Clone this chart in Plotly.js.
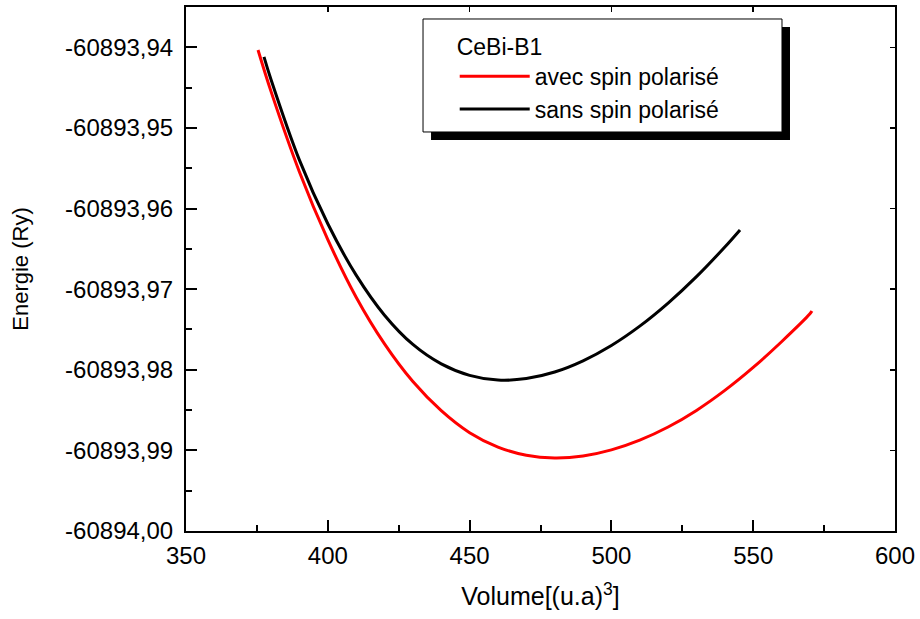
<!DOCTYPE html>
<html>
<head>
<meta charset="utf-8">
<script src="https://cdn.plot.ly/plotly-3.0.1.min.js"></script>
<style>html,body{margin:0;padding:0;background:#fff;}#chart{width:920px;height:619px;}</style>
</head>
<body>
<div id="chart"></div>
<script>
// Series: avec spin polarisé (red)
var volAvec = [375.4, 380, 390, 400, 410, 420, 430, 440, 450, 460, 470, 480, 490, 500, 510, 520, 530, 540, 550, 560, 570, 570.7];
var eAvec = [-60893.94034, -60893.94550, -60893.95546, -60893.96386, -60893.97100, -60893.97679, -60893.98146, -60893.98507, -60893.98780, -60893.98959, -60893.99061, -60893.99094, -60893.99070, -60893.98994, -60893.98873, -60893.98710, -60893.98504, -60893.98256, -60893.97971, -60893.97652, -60893.97306, -60893.97270];
// Series: sans spin polarisé (black)
var volSans = [377.5, 380, 390, 400, 410, 420, 430, 440, 450, 460, 470, 480, 490, 500, 510, 520, 530, 540, 545.35];
var eSans = [-60893.94119, -60893.94402, -60893.95400, -60893.96189, -60893.96826, -60893.97323, -60893.97686, -60893.97927, -60893.98069, -60893.98128, -60893.98109, -60893.98028, -60893.97889, -60893.97699, -60893.97459, -60893.97173, -60893.96845, -60893.96477, -60893.96265];

var seriesNames = ['avec spin polarisé', 'sans spin polarisé'];
var legendTitle = 'CeBi-B1';
var yTickVals = [-60894.00, -60893.99, -60893.98, -60893.97, -60893.96, -60893.95, -60893.94];
var yTickText = ['-60894,00', '-60893,99', '-60893,98', '-60893,97', '-60893,96', '-60893,95', '-60893,94'];
var xTickVals = [350, 400, 450, 500, 550, 600];
var xTickText = ['350', '400', '450', '500', '550', '600'];

var FONT = 'Arial, "Liberation Sans", sans-serif';

var traces = [
  {x: volAvec, y: eAvec, name: seriesNames[0], mode: 'lines', line: {color: '#ff0000', width: 3, shape: 'spline'}},
  {x: volSans, y: eSans, name: seriesNames[1], mode: 'lines', line: {color: '#000000', width: 3, shape: 'spline'}},
  {x: [], y: [], xaxis: 'x2', yaxis: 'y2', showlegend: false, hoverinfo: 'skip', mode: 'lines'}
];

var xr = [350, 600], yr = [-60894.0, -60893.935];

var layout = {
  width: 920, height: 619,
  margin: {l: 186, r: 25, t: 7, b: 88},
  paper_bgcolor: '#ffffff', plot_bgcolor: '#ffffff',
  font: {family: FONT, size: 22, color: '#000'},
  showlegend: true,
  xaxis: {
    range: xr, tickvals: xTickVals, ticktext: xTickText,
    ticks: 'inside', ticklen: 11, tickwidth: 2, tickcolor: '#000',
    minor: {ticks: 'inside', dtick: 25, ticklen: 6, tickwidth: 2, tickcolor: '#000'},
    showline: true, linecolor: '#000', linewidth: 2, mirror: true,
    showgrid: false, zeroline: false, ticklabelstandoff: 2,
    tickfont: {family: FONT, size: 24, color: '#000'},
    title: {text: 'Volume[(u.a)<sup>3</sup>]', font: {family: FONT, size: 25, color: '#000'}, standoff: 20}
  },
  yaxis: {
    range: yr, tickvals: yTickVals, ticktext: yTickText,
    ticks: 'inside', ticklen: 11, tickwidth: 2, tickcolor: '#000',
    minor: {ticks: 'inside', dtick: 0.005, tick0: -60894.0, ticklen: 6, tickwidth: 2, tickcolor: '#000'},
    showline: true, linecolor: '#000', linewidth: 2, mirror: true,
    showgrid: false, zeroline: false, ticklabelstandoff: 6,
    tickfont: {family: FONT, size: 24, color: '#000'},
    title: {text: 'Energie (Ry)', font: {family: FONT, size: 22, color: '#000'}, standoff: 30}
  },
  xaxis2: {
    range: xr, overlaying: 'x', side: 'top', anchor: 'y2', tickvals: xTickVals,
    ticks: 'inside', ticklen: 5, tickwidth: 1.5, tickcolor: '#000', showticklabels: false,
    showline: false, showgrid: false, zeroline: false
  },
  yaxis2: {
    range: yr, overlaying: 'y', side: 'right', anchor: 'x2', tickvals: yTickVals,
    ticks: 'inside', ticklen: 5, tickwidth: 1.5, tickcolor: '#000', showticklabels: false,
    showline: false, showgrid: false, zeroline: false
  },
  legend: {
    x: 0.379, y: 0.966, xanchor: 'left', yanchor: 'top',
    bgcolor: 'rgba(0,0,0,0)', borderwidth: 0,
    font: {family: FONT, size: 23, color: '#000'},
    title: {text: legendTitle, font: {family: FONT, size: 23, color: '#000'}},
    itemwidth: 70, tracegroupgap: 0
  },
  shapes: [
    {type: 'rect', xref: 'paper', yref: 'paper', x0: 0.3456, x1: 0.8519, y0: 0.7462, y1: 0.9618,
     fillcolor: '#000', line: {width: 0}, layer: 'above'},
    {type: 'rect', xref: 'paper', yref: 'paper', x0: 0.3343, x1: 0.8406, y0: 0.7615, y1: 0.9771,
     fillcolor: '#fff', line: {width: 1, color: '#000'}, layer: 'above'}
  ]
};

Plotly.newPlot('chart', traces, layout, {displayModeBar: false, staticPlot: true});
</script>
</body>
</html>
